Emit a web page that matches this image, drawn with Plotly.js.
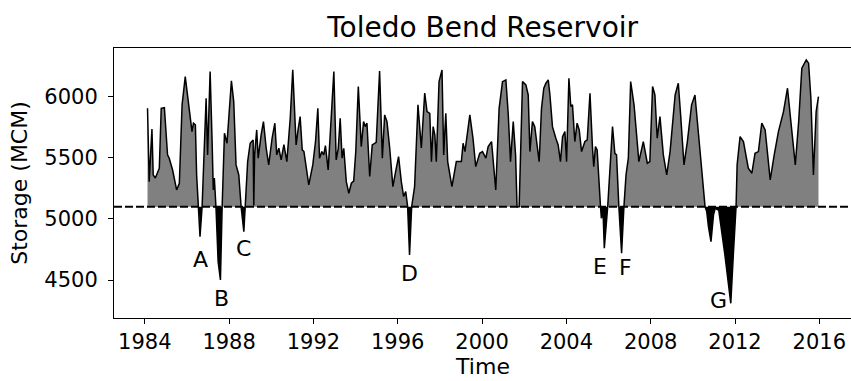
<!DOCTYPE html>
<html>
<head>
<meta charset="utf-8">
<script src="https://cdn.plot.ly/plotly-3.0.1.min.js"></script>
<style>
html,body{margin:0;padding:0;overflow:hidden;background:#fff;}
#chart{width:858px;height:381px;}
</style>
</head>
<body>
<div id="chart"></div>
<script>
// ---- data ----
const years = [
1984.13,1984.21,1984.34,1984.40,1984.50,1984.69,1984.78,1984.93,1985.08,1985.16,
1985.32,1985.51,1985.64,1985.77,1985.92,1986.11,1986.24,1986.31,1986.40,1986.46,
1986.56,1986.62,1986.72,1986.83,1986.91,1986.98,1987.10,1987.19,1987.25,1987.30,
1987.38,1987.48,1987.59,1987.67,1987.78,1987.90,1988.11,1988.22,1988.33,1988.46,
1988.57,1988.70,1988.77,1988.88,1989.00,1989.12,1989.14,1989.17,1989.21,1989.31,
1989.38,1989.52,1989.63,1989.76,1989.88,1990.04,1990.17,1990.26,1990.36,1990.47,
1990.60,1990.74,1990.90,1991.02,1991.18,1991.26,1991.37,1991.47,1991.55,1991.78,
1991.97,1992.10,1992.21,1992.29,1992.40,1992.49,1992.57,1992.70,1992.85,1992.97,
1993.08,1993.18,1993.27,1993.36,1993.44,1993.56,1993.68,1993.80,1993.91,1994.01,
1994.13,1994.27,1994.38,1994.46,1994.54,1994.67,1994.79,1994.98,1995.14,1995.27,
1995.38,1995.49,1995.62,1995.77,1995.90,1996.04,1996.17,1996.28,1996.38,1996.47,
1996.56,1996.66,1996.80,1996.96,1997.12,1997.28,1997.39,1997.52,1997.60,1997.68,
1997.76,1997.83,1997.96,1998.10,1998.18,1998.28,1998.37,1998.43,1998.57,1998.78,
1999.02,1999.10,1999.19,1999.42,1999.57,1999.70,1999.89,2000.02,2000.18,2000.29,
2000.45,2000.56,2000.65,2000.81,2000.97,2001.13,2001.24,2001.35,2001.48,2001.59,
2001.66,2001.76,2001.84,2001.92,2002.08,2002.19,2002.27,2002.39,2002.50,2002.71,
2002.82,2002.93,2003.03,2003.14,2003.22,2003.34,2003.50,2003.61,2003.72,2003.82,
2003.93,2004.01,2004.12,2004.21,2004.29,2004.40,2004.51,2004.61,2004.72,2004.88,
2004.99,2005.12,2005.24,2005.30,2005.38,2005.46,2005.62,2005.66,2005.74,2005.80,
2005.96,2006.07,2006.19,2006.30,2006.38,2006.49,2006.62,2006.73,2006.83,2006.94,
2007.05,2007.21,2007.33,2007.44,2007.65,2007.84,2007.96,2008.09,2008.20,2008.31,
2008.44,2008.60,2008.76,2008.92,2009.16,2009.31,2009.42,2009.58,2009.74,2009.94,
2010.10,2010.26,2010.42,2010.58,2010.66,2010.74,2010.86,2010.98,2011.06,2011.12,
2011.23,2011.52,2011.80,2011.92,2012.05,2012.10,2012.24,2012.40,2012.63,2012.80,
2012.95,2013.11,2013.27,2013.43,2013.67,2013.86,2014.06,2014.30,2014.49,2014.65,
2014.86,2015.02,2015.17,2015.38,2015.49,2015.60,2015.72,2015.85,2015.96
];
const storage = [
5905,5305,5736,5360,5335,5415,5905,5910,5524,5497,
5400,5237,5292,5933,6164,5878,5714,5783,5770,5360,
5100,4855,5100,5578,5987,5524,6205,5660,5237,5335,
5086,4651,4501,5100,5701,5619,6129,5960,5442,5360,
5100,4896,5100,5469,5619,5646,5646,5110,5524,5728,
5497,5687,5796,5578,5442,5660,5783,5524,5578,5483,
5608,5469,5823,6219,5605,5714,5837,5565,5551,5278,
5442,5633,5905,5497,5551,5524,5600,5400,5851,6205,
5483,5578,5823,5497,5578,5305,5210,5292,5310,5551,
6083,5592,5796,5755,5783,5347,5605,5627,6210,5497,
5851,5796,5578,5264,5387,5510,5305,5183,5224,5100,
4706,5100,5264,5933,5580,6030,5878,5864,5469,5755,
5687,5469,6123,6219,5524,5864,5469,5415,5264,5469,
5469,5619,5551,5851,5660,5428,5537,5551,5497,5592,
5633,5415,5237,5905,6123,6137,5864,5469,5796,5524,
5100,5100,5524,6123,6096,6014,5551,5796,5755,5469,
5905,6069,6110,6137,6014,5755,5660,5605,5469,5673,
5714,5469,6151,5919,5933,5633,5783,5728,5551,5633,
5646,6028,5578,5428,5592,5565,5100,5006,5060,4760,
5100,5442,5755,5537,5524,5100,4719,5100,5360,5497,
6123,5933,5660,5469,5633,5456,5469,6083,6014,5660,
5837,5524,5360,5551,6014,6110,5851,5442,5633,5933,
6014,5714,5400,5100,5060,4937,4814,5033,5086,5078,
5070,4706,4310,4706,5100,5442,5673,5633,5415,5374,
5537,5551,5783,5728,5319,5524,5714,5878,6069,5796,
5442,5796,6233,6301,6274,5987,5360,5878,6001
];
const threshold = 5100;
const eventLabels = ['A','B','C','D','E','F','G'];
const xTicks = [1984,1988,1992,1996,2000,2004,2008,2012,2016];
const yTicks = [4500,5000,5500,6000];

// ---- label placement (layout) ----
const labelPos = [
  [1986.64,4665],[1987.62,4351],[1988.69,4760],[1996.57,4556],
  [2005.59,4610],[2006.81,4605],[2011.21,4337]
];

const base = years.map(() => threshold);
const above = storage.map(v => Math.max(v, threshold));
const below = storage.map(v => Math.min(v, threshold));
const FONT = 'DejaVu Sans, sans-serif';

const traces = [
  {x: years, y: base, mode: 'lines', line: {width: 0}, hoverinfo: 'skip', showlegend: false},
  {x: years, y: above, mode: 'lines', line: {width: 0}, fill: 'tonexty', fillcolor: '#808080', hoverinfo: 'skip', showlegend: false},
  {x: years, y: base, mode: 'lines', line: {width: 0}, hoverinfo: 'skip', showlegend: false},
  {x: years, y: below, mode: 'lines', line: {width: 0}, fill: 'tonexty', fillcolor: '#000000', hoverinfo: 'skip', showlegend: false},
  {x: years, y: storage, mode: 'lines', line: {color: '#000', width: 1.5}, showlegend: false}
];

const layout = {
  width: 858, height: 381,
  margin: {l: 114, r: 6, t: 48, b: 63},
  paper_bgcolor: '#fff', plot_bgcolor: '#fff',
  font: {family: FONT, color: '#000', size: 21},
  title: {text: 'Toledo Bend Reservoir', font: {family: FONT, size: 28, color: '#000'},
          x: 0.5625, xanchor: 'center', xref: 'container', y: 1 - 27/381, yref: 'container', yanchor: 'middle'},
  xaxis: {
    range: [1982.54, 2017.55], tickvals: xTicks, ticktext: xTicks.map(String),
    ticks: 'outside', ticklen: 5, tickwidth: 1, tickcolor: '#000',
    showline: true, linecolor: '#000', linewidth: 1, mirror: true,
    showgrid: false, zeroline: false,
    tickfont: {family: FONT, size: 21, color: '#000'},
    title: {text: 'Time', font: {family: FONT, size: 22, color: '#000'}, standoff: 5}
  },
  yaxis: {
    range: [4190, 6398], tickvals: yTicks, ticktext: yTicks.map(String),
    ticks: 'outside', ticklen: 5, tickwidth: 1, tickcolor: '#000',
    showline: true, linecolor: '#000', linewidth: 1, mirror: true,
    showgrid: false, zeroline: false, ticklabelstandoff: 6,
    tickfont: {family: FONT, size: 21, color: '#000'},
    title: {text: 'Storage (MCM)', font: {family: FONT, size: 22, color: '#000'}, standoff: 10}
  },
  shapes: [{type: 'line', xref: 'paper', x0: 0, x1: 1, yref: 'y', y0: threshold, y1: threshold,
            line: {color: '#000', width: 2, dash: '8px,3px'}, layer: 'above'}],
  annotations: eventLabels.map((t, i) => ({
    x: labelPos[i][0], y: labelPos[i][1], xref: 'x', yref: 'y', text: t, showarrow: false,
    font: {family: FONT, size: 22, color: '#000'}, xanchor: 'center', yanchor: 'middle'
  }))
};

Plotly.newPlot('chart', traces, layout, {staticPlot: true, displayModeBar: false});
</script>
</body>
</html>
